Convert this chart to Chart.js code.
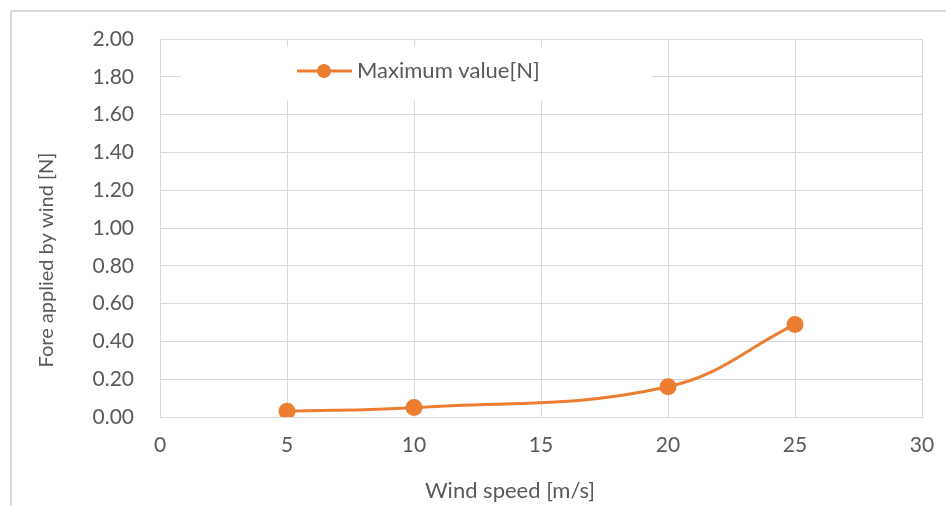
<!DOCTYPE html>
<html>
<head>
<meta charset="utf-8">
<script src="https://cdn.jsdelivr.net/npm/chart.js@4/dist/chart.umd.min.js"></script>
<style>
  html, body { margin: 0; padding: 0; background: #fff; }
  #wrap { width: 946px; height: 506px; }
</style>
</head>
<body>
<div id="wrap"><canvas id="myChart" width="946" height="506"></canvas></div>
<script>
const windSpeed = [5, 10, 20, 25];
const maxForce = [0.03, 0.05, 0.16, 0.49];
const seriesLabel = "Maximum value[N]";
const xTitle = "Wind speed [m/s]";
const yTitle = "Fore applied by wind [N]";

const ORANGE = "#ED7D31";
const GRID = "#d9d9d9";
const TEXT = "#595959";
const FONT = "Lato, 'Liberation Sans', sans-serif";

// outer frame, axis titles (Excel puts them off-centre)
const framePlugin = {
  id: "frame",
  beforeDraw(chart) {
    const ctx = chart.ctx;
    ctx.save();
    ctx.strokeStyle = GRID;
    ctx.lineWidth = 2;
    ctx.beginPath();
    ctx.moveTo(11, 506);
    ctx.lineTo(11, 11);
    ctx.lineTo(946, 11);
    ctx.stroke();
    ctx.restore();
  },
  afterDraw(chart) {
    const ctx = chart.ctx;
    ctx.save();
    ctx.fillStyle = TEXT;
    ctx.textAlign = "center";
    ctx.textBaseline = "middle";
    ctx.font = "22px " + FONT;
    ctx.fillText(xTitle, 510, 491);
    ctx.translate(47, 260);
    ctx.rotate(-Math.PI / 2);
    ctx.font = "20px " + FONT;
    ctx.fillText(yTitle, 0, 0);
    ctx.restore();
  }
};

const legendPlugin = {
  id: "boxLegend",
  beforeDatasetsDraw(chart) {
    const ctx = chart.ctx;
    const a = chart.chartArea;
    const x0 = a.left + 21, y0 = a.top + 8;
    ctx.save();
    ctx.fillStyle = "#fff";
    ctx.fillRect(x0, y0, 471, 53);
    const cy = y0 + 24;
    ctx.strokeStyle = ORANGE;
    ctx.lineWidth = 3;
    ctx.beginPath();
    ctx.moveTo(x0 + 116, cy);
    ctx.lineTo(x0 + 171, cy);
    ctx.stroke();
    ctx.fillStyle = ORANGE;
    ctx.beginPath();
    ctx.arc(x0 + 143, cy, 7, 0, Math.PI * 2);
    ctx.fill();
    ctx.fillStyle = TEXT;
    ctx.font = "22px " + FONT;
    ctx.textBaseline = "middle";
    ctx.fillText(seriesLabel, x0 + 176, cy);
    ctx.restore();
  }
};

const chartData = {
  datasets: [
    {
      label: seriesLabel,
      data: windSpeed.map((x, i) => ({ x: x, y: maxForce[i] })),
      borderColor: ORANGE,
      backgroundColor: ORANGE,
      borderWidth: 3,
      pointRadius: 7,
      pointHoverRadius: 7,
      showLine: true,
      tension: 0.4,
    },
  ],
};

const config = {
  type: "scatter",
  data: chartData,
  options: {
    responsive: false,
    animation: false,
    layout: { padding: { top: 39, right: 24, left: 0, bottom: 0 } },
    plugins: { legend: { display: false }, tooltip: { enabled: false } },
    scales: {
      x: {
        type: "linear",
        min: 0,
        max: 30,
        afterFit(scale) {
          scale.height = 89;
          scale.paddingLeft = 0;
          scale.paddingRight = 0;
        },
        ticks: { stepSize: 5, color: TEXT, font: { family: FONT, size: 21 }, padding: 16 },
        grid: { color: GRID, lineWidth: 1, drawTicks: false },
        border: { color: GRID },
      },
      y: {
        min: 0,
        max: 2,
        afterFit(scale) {
          scale.width = 160;
          scale.paddingTop = 0;
          scale.paddingBottom = 0;
        },
        ticks: {
          stepSize: 0.2,
          color: TEXT,
          font: { family: FONT, size: 21 },
          padding: 26,
          callback: (v) => v.toFixed(2),
        },
        grid: { color: GRID, lineWidth: 1, drawTicks: false },
        border: { color: GRID },
      },
    },
  },
  plugins: [framePlugin, legendPlugin],
};

const myChart = new Chart(document.getElementById("myChart"), config);
</script>
</body>
</html>
